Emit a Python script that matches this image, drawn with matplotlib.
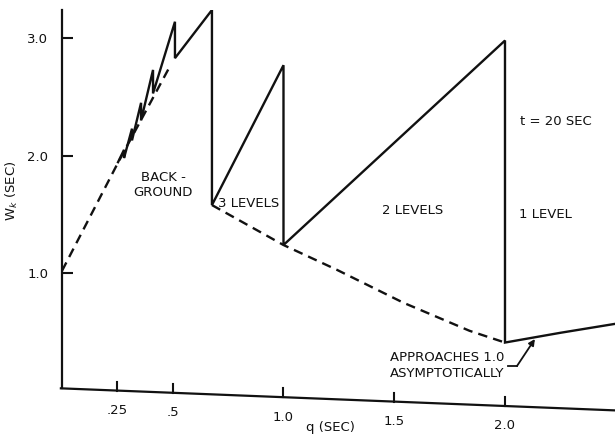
import matplotlib.pyplot as plt

# waiting time W_k against quantum size q, with t = 20 sec
# solid sawtooth: rises with q, drops where the number of levels changes
saw_q = [0.253, 0.28, 0.28, 0.316, 0.316, 0.357, 0.357, 0.411, 0.411,
         0.51, 0.51, 0.677, 0.677, 1.0, 1.0, 2.0, 2.0, 2.25, 2.5]
saw_w = [1.945, 2.05, 1.98, 2.23, 2.13, 2.45, 2.30, 2.73, 2.53,
         3.14, 2.83, 3.24, 1.58, 2.77, 1.24, 2.98, 0.41, 0.493, 0.57]

# dashed envelopes through the drop points
bg_q = [0.0, 0.25, 0.49]
bg_w = [1.02, 1.93, 2.77]
lev_q = [0.677, 1.0, 1.24, 1.54, 1.84, 2.0]
lev_w = [1.58, 1.24, 1.03, 0.75, 0.51, 0.41]

xticks = [0.25, 0.5, 1.0, 1.5, 2.0]
xlabels = ['.25', '.5', '1.0', '1.5', '2.0']
yticks = [1.0, 2.0, 3.0]
ylabels = ['1.0', '2.0', '3.0']

ink = '#111111'
fs = 9.5


def axis_y(q):
    # the q axis is drawn with a slight downward slant
    return 0.02 - 0.075 * q


fig = plt.figure(figsize=(6.15, 4.34), dpi=100)
ax = fig.add_axes([0.1008, 0.032, 0.9004, 0.945])
ax.set_xlim(0, 2.5)
ax.set_ylim(-0.25, 3.24)

ax.plot(saw_q, saw_w, color=ink, lw=1.7, solid_joinstyle='miter')
ax.plot(bg_q, bg_w, color=ink, lw=1.7, dashes=(4, 2.6))
ax.plot(lev_q, lev_w, color=ink, lw=1.7, dashes=(4, 2.6))

# axes
for side in ['top', 'right', 'bottom']:
    ax.spines[side].set_visible(False)
ax.spines['left'].set_bounds(0.02, 3.24)
ax.spines['left'].set_linewidth(1.6)
ax.spines['left'].set_color(ink)
ax.set_yticks(yticks)
ax.set_yticklabels(ylabels)
ax.tick_params(axis='y', direction='in', length=8, width=1.5, pad=10,
               labelsize=fs, colors=ink)
ax.set_xticks([])

ax.plot([-0.01, 2.5], [axis_y(-0.01), axis_y(2.5)], color=ink, lw=1.6,
        clip_on=False, solid_capstyle='butt')
for q, lab in zip(xticks, xlabels):
    ax.plot([q, q], [axis_y(q), axis_y(q) + 0.075], color=ink, lw=1.5,
            clip_on=False)
    ax.text(q, axis_y(q) - 0.17, lab, ha='center', va='center',
            fontsize=fs, color=ink, clip_on=False)

ax.text(1.21, -0.31, 'q (SEC)', ha='center', va='center', fontsize=fs,
        color=ink, clip_on=False)
ax.set_ylabel('W$_k$ (SEC)', fontsize=fs, color=ink)
ax.yaxis.set_label_coords(-0.076, 0.56)

# region labels
ax.text(0.456, 1.75, 'BACK -\nGROUND', ha='center', va='center',
        fontsize=fs, color=ink, linespacing=1.2)
ax.text(0.704, 1.59, '3 LEVELS', ha='left', va='center', fontsize=fs,
        color=ink)
ax.text(1.585, 1.53, '2 LEVELS', ha='center', va='center', fontsize=fs,
        color=ink)
ax.text(2.063, 1.50, '1 LEVEL', ha='left', va='center', fontsize=fs,
        color=ink)
ax.text(2.068, 2.29, 't = 20 SEC', ha='left', va='center', fontsize=fs,
        color=ink)
ax.text(1.48, 0.215, 'APPROACHES 1.0\nASYMPTOTICALLY', ha='left',
        va='center', fontsize=fs, color=ink, linespacing=1.3)

# leader from the note to the 1-level curve
ax.plot([2.014, 2.054], [0.21, 0.21], color=ink, lw=1.3)
ax.annotate('', xy=(2.135, 0.44), xytext=(2.054, 0.21),
            arrowprops=dict(arrowstyle='-|>', color=ink, lw=1.3,
                            mutation_scale=9, shrinkA=0, shrinkB=0))

plt.savefig('out.png', dpi=100)
